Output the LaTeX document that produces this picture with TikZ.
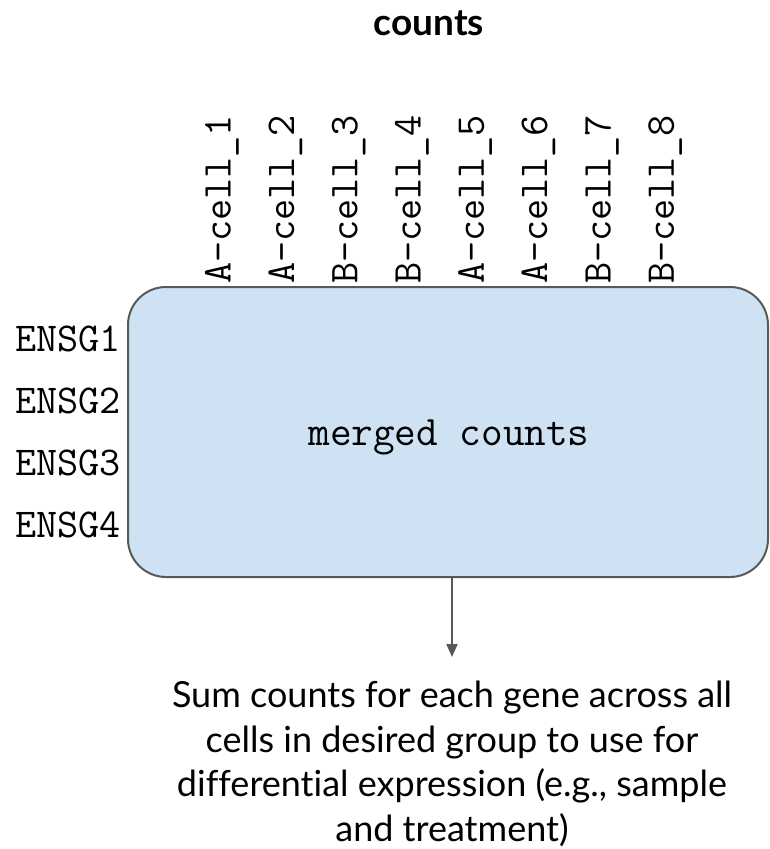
\documentclass[tikz,border=0pt]{standalone}
\usepackage{fontspec}
\setmainfont{Lato}[Ligatures=NoCommon]
\usetikzlibrary{arrows.meta}
\definecolor{boxfill}{HTML}{CFE2F3}
\definecolor{boxline}{HTML}{595959}
\tikzset{
  monotext/.style={font=\ttfamily\fontsize{41}{46}\selectfont, inner sep=0pt, text=black},
  collabel/.style={monotext, rotate=90, anchor=west},
  rowlabel/.style={monotext, anchor=east},
  matbox/.style={draw=boxline, line width=2pt, fill=boxfill, rounded corners=38pt, minimum width=640pt, minimum height=290pt, inner sep=0pt},
  conn/.style={draw=boxline, line width=2pt, -{Triangle[length=13pt,width=11pt]}},
}
\begin{document}
\begin{tikzpicture}[x=1pt,y=-1pt]
\useasboundingbox (0,0) rectangle (769,849);
\node[font=\bfseries\fontsize{37}{44}\selectfont, anchor=base] (title) at (429,35) {counts};
\node[matbox] (box) at (448,432) {};
\node[monotext, font=\ttfamily\fontsize{42}{46}\selectfont] (mlabel) at (449,437) {merged counts};
\foreach \t/\i in {A-cell\_1/1, A-cell\_2/2, B-cell\_3/3, B-cell\_4/4, A-cell\_5/5, A-cell\_6/6, B-cell\_7/7, B-cell\_8/8}{
  \node[collabel] (c\i) at ({222+63.3*(\i-1)},284) {\t};
}
\foreach \i in {1,2,3,4}{
  \node[rowlabel] (r\i) at (121,{339+62*(\i-1)}) {ENSG\i};
}
\coordinate (tip) at (452,657);
\draw[conn] (box.south -| tip) -- (tip);
\node[font=\fontsize{36}{44.5}\selectfont, align=center, anchor=base] (desc) at (452,841)
 {Sum counts for each gene across all\\cells in desired group to use for\\differential expression (e.g., sample\\and treatment)};
\end{tikzpicture}
\end{document}
